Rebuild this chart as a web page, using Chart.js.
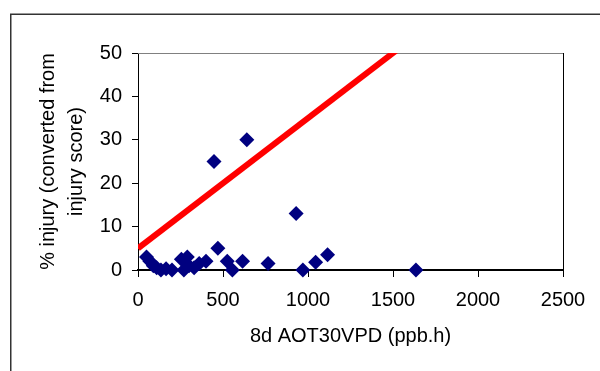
<!DOCTYPE html>
<html>
<head>
<meta charset="utf-8">
<script src="https://cdn.jsdelivr.net/npm/chart.js@4.4.0/dist/chart.umd.min.js"></script>
<style>
  body { margin: 0; background: #fff; }
  #wrap { width: 600px; height: 371px; }
</style>
</head>
<body>
<div id="wrap"><canvas id="injuryChart" width="600" height="371"></canvas></div>
<script>
// Observed injury vs 8d AOT30VPD
const aotValues = [50, 70, 90, 110, 135, 165, 200, 255, 270, 290, 300, 330, 360, 400, 447, 470, 525, 555, 615, 640, 765, 930, 970, 1045, 1115, 1635];
const injuryValues = [3, 2, 1, 0.5, 0, 0.3, 0, 2.5, 0, 3, 1, 0.5, 1.5, 2, 25, 5, 2, 0, 2, 30, 1.5, 13, 0, 1.8, 3.5, 0];

// Red reference line end points
const lineX = [0, 1630];
const lineY = [5, 53.9];

// Axis ticks
const xTicks = [0, 500, 1000, 1500, 2000, 2500];
const yTicks = [0, 10, 20, 30, 40, 50];

const points = aotValues.map((x, i) => ({ x: x, y: injuryValues[i] }));
const refLine = lineX.map((x, i) => ({ x: x, y: lineY[i] }));

const fontFamily = 'Arial, "Liberation Sans", sans-serif';

// Outer frame and plot area border (top grey, right black)
const framePlugin = {
    id: 'frame',
    beforeDatasetsDraw(chart) {
        const ctx = chart.ctx;
        const a = chart.chartArea;
        ctx.save();
        ctx.strokeStyle = '#333';
        ctx.lineWidth = 1.5;
        ctx.strokeRect(10.75, 14.25, 1000, 1000);
        ctx.lineWidth = 1;
        ctx.strokeStyle = '#808080';
        ctx.beginPath();
        ctx.moveTo(a.left, a.top + 0.5);
        ctx.lineTo(a.right, a.top + 0.5);
        ctx.stroke();
        ctx.strokeStyle = '#000';
        ctx.beginPath();
        ctx.moveTo(a.right + 0.5, a.top);
        ctx.lineTo(a.right + 0.5, a.bottom);
        ctx.stroke();
        ctx.restore();
    }
};

const ctx = document.getElementById('injuryChart').getContext('2d');

new Chart(ctx, {
    type: 'scatter',
    data: {
        datasets: [{
            label: 'Injury',
            data: points,
            pointStyle: 'rectRot',
            pointRadius: 7.5,
            pointHoverRadius: 7.5,
            backgroundColor: '#000080',
            borderColor: '#000080',
            borderWidth: 0,
            clip: false
        }, {
            type: 'line',
            label: 'Reference',
            data: refLine,
            borderColor: '#ff0000',
            borderWidth: 6,
            pointRadius: 0,
            fill: false,
            clip: 0
        }]
    },
    options: {
        responsive: false,
        animation: false,
        events: [],
        layout: { padding: { top: 53, right: 37, left: 0, bottom: 0 } },
        plugins: {
            legend: { display: false },
            tooltip: { enabled: false }
        },
        scales: {
            x: {
                type: 'linear',
                min: 0,
                max: 2500,
                afterBuildTicks: (scale) => { scale.ticks = xTicks.map(v => ({ value: v })); },
                afterFit: (scale) => { scale.height = 101; },
                grid: { drawOnChartArea: false, tickLength: 7, color: '#000', lineWidth: 1 },
                border: { color: '#000', width: 2 },
                ticks: {
                    color: '#000',
                    padding: 11,
                    maxRotation: 0,
                    font: { family: fontFamily, size: 20 },
                    callback: (v) => String(v)
                },
                title: {
                    display: true,
                    text: '8d AOT30VPD (ppb.h)',
                    color: '#000',
                    font: { family: fontFamily, size: 20, lineHeight: 1.2 },
                    padding: { top: 0, bottom: 23 }
                }
            },
            y: {
                type: 'linear',
                min: 0,
                max: 50,
                afterBuildTicks: (scale) => { scale.ticks = yTicks.map(v => ({ value: v })); },
                afterFit: (scale) => { scale.width = 138; },
                grid: { drawOnChartArea: false, tickLength: 6, color: '#000', lineWidth: 1 },
                border: { color: '#000', width: 1 },
                ticks: {
                    color: '#000',
                    padding: 10,
                    font: { family: fontFamily, size: 20 },
                    callback: (v) => String(v)
                },
                title: {
                    display: true,
                    text: ['% injury (converted from', 'injury score)'],
                    color: '#000',
                    font: { family: fontFamily, size: 20, lineHeight: 1.4 },
                    padding: { top: 34, bottom: 0 }
                }
            }
        }
    },
    plugins: [framePlugin]
});
</script>
</body>
</html>
